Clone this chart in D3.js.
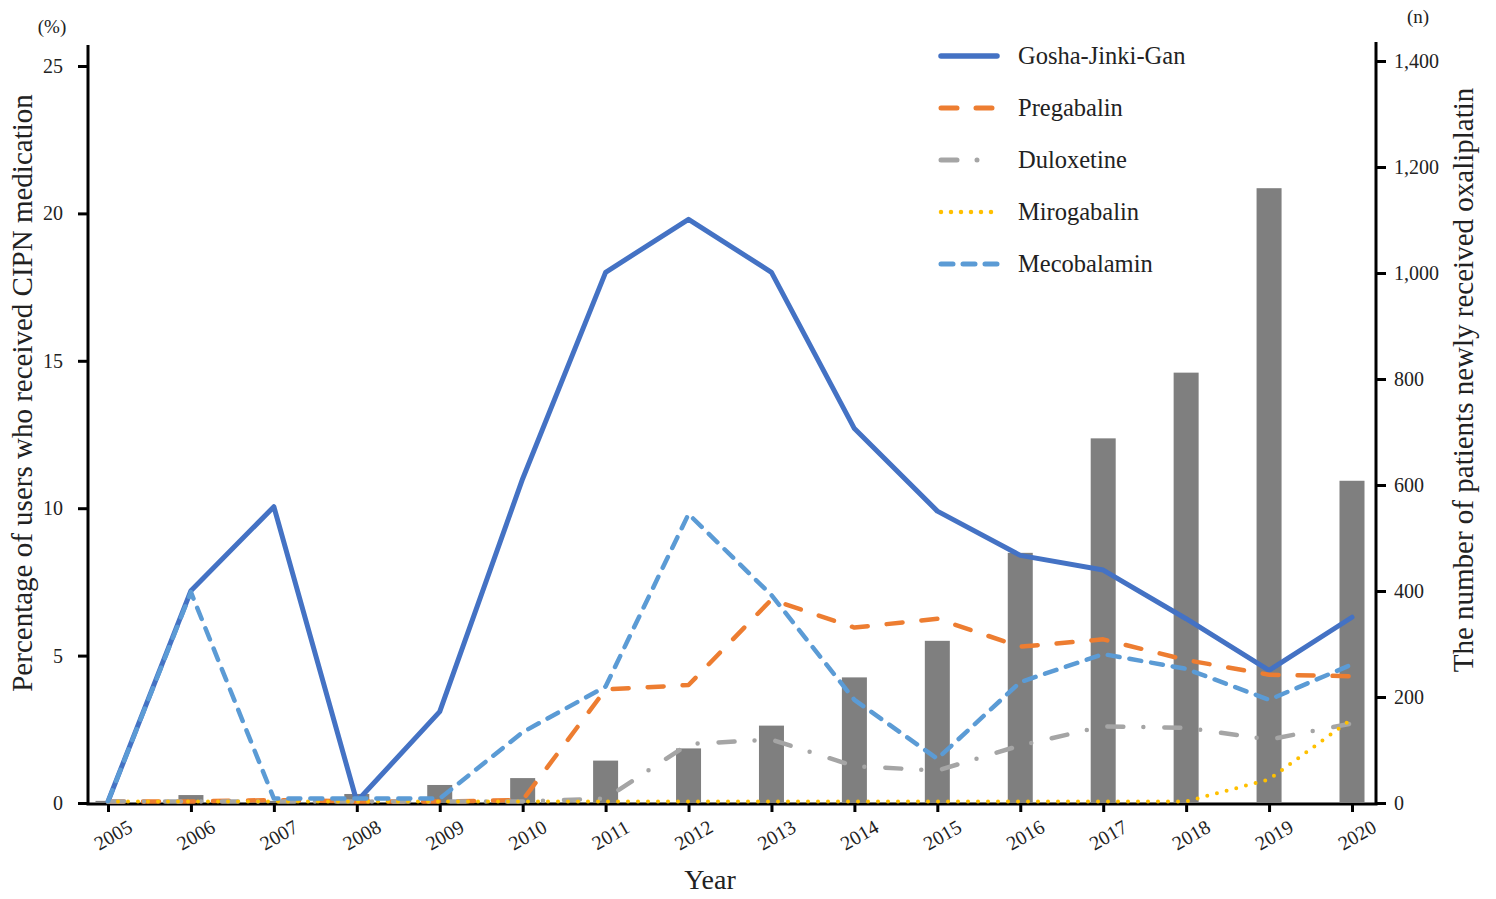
<!DOCTYPE html>
<html>
<head>
<meta charset="utf-8">
<script src="https://cdn.jsdelivr.net/npm/d3@7"></script>
<style>
  body { margin: 0; background: #fff; }
  text { font-family: "Liberation Serif", "Times New Roman", serif; fill: #222; }
</style>
</head>
<body>
<div id="chart"></div>
<script>
// data
let years = [2005, 2006, 2007, 2008, 2009, 2010, 2011, 2012, 2013, 2014, 2015, 2016, 2017, 2018, 2019, 2020];
let patients = [4, 15, 4, 17, 34, 47, 80, 103, 146, 237, 306, 472, 688, 812, 1160, 608];
let gosha = [0, 7.15, 10.0, 0, 3.05, 10.95, 17.95, 19.75, 17.95, 12.65, 9.85, 8.35, 7.85, 6.2, 4.45, 6.25];
let pregabalin = [0, 0, 0.05, 0, 0, 0.05, 3.8, 3.95, 6.85, 5.9, 6.2, 5.25, 5.5, 4.8, 4.3, 4.25];
let duloxetine = [0, 0, 0, 0, 0, 0, 0.1, 1.95, 2.1, 1.2, 1.05, 1.9, 2.55, 2.5, 2.1, 2.65];
let mirogabalin = [0, 0, 0, 0, 0, 0, 0, 0, 0, 0, 0, 0, 0, 0, 0.75, 2.8];
let mecobalamin = [0, 7.1, 0.1, 0.1, 0.1, 2.35, 3.9, 9.75, 7.0, 3.45, 1.45, 4.05, 5.0, 4.5, 3.45, 4.65];
let seriesNames = ['Gosha-Jinki-Gan', 'Pregabalin', 'Duloxetine', 'Mirogabalin', 'Mecobalamin'];
let leftTicks = [0, 5, 10, 15, 20, 25];
let rightTicks = [0, 200, 400, 600, 800, 1000, 1200, 1400];

let W = 1496, H = 899;
let left = 88, right = 1376, bottom = 803;

let svg = d3.select('#chart')
  .append('svg')
  .attr('width', W)
  .attr('height', H);

let x = d3.scalePoint()
  .domain(years)
  .range([108, 1352]);

let y = d3.scaleLinear()
  .domain([0, 25])
  .range([bottom, 66]);

let y2 = d3.scaleLinear()
  .domain([0, 1400])
  .range([bottom, 61]);

// axes first, so the zero lines sit on top of the x axis
let xAxis = svg.append('g')
  .attr('transform', 'translate(0,' + bottom + ')')
  .call(d3.axisBottom(x).tickSize(9).tickSizeOuter(0));
xAxis.select('.domain').remove();
xAxis.selectAll('line').attr('stroke', '#000').attr('stroke-width', 3);
xAxis.selectAll('text')
  .attr('font-size', 20)
  .attr('text-anchor', 'middle')
  .attr('y', 0)
  .attr('dy', 0)
  .attr('transform', 'translate(8,38) rotate(-30)');

let yAxis = svg.append('g')
  .attr('transform', 'translate(' + left + ',0)')
  .call(d3.axisLeft(y).tickValues(leftTicks).tickSize(10).tickPadding(15).tickSizeOuter(0));
yAxis.select('.domain').remove();
yAxis.selectAll('line').attr('stroke', '#000').attr('stroke-width', 3);
yAxis.selectAll('text').attr('font-size', 20);

let yAxis2 = svg.append('g')
  .attr('transform', 'translate(' + right + ',0)')
  .call(d3.axisRight(y2).tickValues(rightTicks).tickFormat(d3.format(',')).tickSize(10).tickPadding(8).tickSizeOuter(0));
yAxis2.select('.domain').remove();
yAxis2.selectAll('line').attr('stroke', '#000').attr('stroke-width', 3);
yAxis2.selectAll('text').attr('font-size', 20);

svg.append('line')
  .attr('x1', left).attr('x2', left)
  .attr('y1', 45).attr('y2', bottom + 1.5)
  .attr('stroke', '#000').attr('stroke-width', 3);
svg.append('line')
  .attr('x1', right).attr('x2', right)
  .attr('y1', 42).attr('y2', bottom + 1.5)
  .attr('stroke', '#000').attr('stroke-width', 3);
svg.append('line')
  .attr('x1', left - 1.5).attr('x2', right + 1.5)
  .attr('y1', bottom + 1).attr('y2', bottom + 1)
  .attr('stroke', '#000').attr('stroke-width', 3);

// bars (right axis)
svg.append('g')
  .selectAll('rect')
  .data(years)
  .enter()
  .append('rect')
  .attr('x', d => x(d) - 12.5)
  .attr('width', 25)
  .attr('y', (d, i) => y2(patients[i]))
  .attr('height', (d, i) => bottom - y2(patients[i]))
  .attr('fill', '#7f7f7f');

let styles = [
  {data: gosha, color: '#4472c4', width: 5, dash: null},
  {data: pregabalin, color: '#ed7d31', width: 4.5, dash: '16,19'},
  {data: duloxetine, color: '#a5a5a5', width: 4.5, dash: '16,20,0,21'},
  {data: mirogabalin, color: '#ffc000', width: 4, dash: '0,10'},
  {data: mecobalamin, color: '#5b9bd5', width: 4.5, dash: '12,10'}
];

let line = d3.line()
  .x((d, i) => x(years[i]))
  .y(d => y(d) - 1.5);

styles.forEach(s => {
  svg.append('path')
    .datum(s.data)
    .attr('d', line)
    .attr('fill', 'none')
    .attr('stroke', s.color)
    .attr('stroke-width', s.width)
    .attr('stroke-linecap', 'round')
    .attr('stroke-linejoin', 'round')
    .attr('stroke-dasharray', s.dash);
});

// titles
svg.append('text')
  .attr('text-anchor', 'middle')
  .attr('font-size', 29)
  .attr('transform', 'translate(32,393) rotate(-90)')
  .text('Percentage of users who received CIPN medication');

svg.append('text')
  .attr('text-anchor', 'middle')
  .attr('font-size', 29)
  .attr('transform', 'translate(1473,380) rotate(-90)')
  .text('The number of patients newly received oxaliplatin');

svg.append('text')
  .attr('text-anchor', 'middle')
  .attr('font-size', 28)
  .attr('x', 710)
  .attr('y', 889)
  .text('Year');

svg.append('text')
  .attr('text-anchor', 'middle')
  .attr('font-size', 19)
  .attr('x', 52)
  .attr('y', 33)
  .text('(%)');

svg.append('text')
  .attr('text-anchor', 'middle')
  .attr('font-size', 19)
  .attr('x', 1418)
  .attr('y', 23)
  .text('(n)');

// legend
let legend = svg.append('g');
styles.forEach((s, i) => {
  let ly = 56 + i * 52;
  legend.append('line')
    .attr('x1', 941).attr('x2', 997)
    .attr('y1', ly).attr('y2', ly)
    .attr('stroke', s.color)
    .attr('stroke-width', s.width + 0.5)
    .attr('stroke-linecap', 'round')
    .attr('stroke-dasharray', s.dash);
  legend.append('text')
    .attr('x', 1018)
    .attr('y', ly + 8)
    .attr('font-size', 24.5)
    .text(seriesNames[i]);
});
</script>
</body>
</html>
